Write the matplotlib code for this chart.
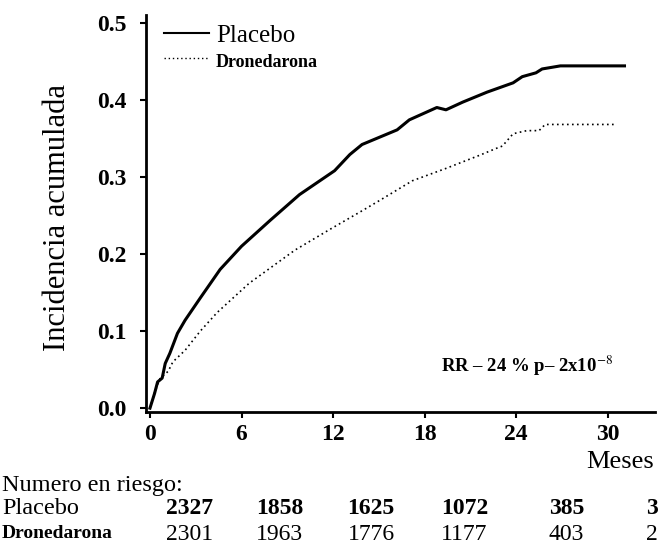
"""Incidencia acumulada: Placebo vs Dronedarona (curva tipo Kaplan-Meier)."""

import matplotlib

matplotlib.use("Agg")
import matplotlib.pyplot as plt
from matplotlib.lines import Line2D
from matplotlib.transforms import blended_transform_factory

plt.rcParams["font.family"] = ["Liberation Serif", "DejaVu Serif"]
plt.rcParams["mathtext.fontset"] = "stix"

# --- Datos ---
placebo_months = [0, 0.3, 0.5, 0.8, 1.0, 1.3, 1.8, 2.3, 3.3, 4.6, 6.0, 7.9, 9.8,
                  12.1, 13.1, 13.9, 16.2, 17.0, 18.8, 19.4, 20.5, 22.1, 23.8,
                  24.4, 25.3, 25.7, 26.9, 31.1]
placebo_inc = [0, 0.019, 0.034, 0.039, 0.058, 0.071, 0.097, 0.114, 0.143, 0.18,
               0.21, 0.244, 0.277, 0.308, 0.329, 0.342, 0.361, 0.374, 0.39,
               0.387, 0.397, 0.41, 0.422, 0.43, 0.435, 0.44, 0.444, 0.444]

drone_months = [0, 0.3, 0.65, 1.2, 1.5, 2.3, 3.3, 4.4, 6.5, 7.2, 9.5, 11.8, 13.9,
                15.1, 17.2, 19.4, 21.6, 22.7, 23.1, 23.8, 24.7, 25.5, 25.9, 30.5]
drone_inc = [0, 0.02, 0.038, 0.048, 0.06, 0.075, 0.1, 0.124, 0.162, 0.172, 0.205,
             0.232, 0.256, 0.27, 0.295, 0.311, 0.328, 0.337, 0.34, 0.356, 0.36,
             0.36, 0.368, 0.368]

risk_months = [0, 6, 12, 18, 24, 30]
risk_placebo = [2327, 1858, 1625, 1072, 385, 3]
risk_drone = [2301, 1963, 1776, 1177, 403, 2]

xticks = [0, 6, 12, 18, 24, 30]
yticks = [0.0, 0.1, 0.2, 0.3, 0.4, 0.5]


def main() -> None:
    fig = plt.figure(figsize=(6.58, 5.47), dpi=100)
    ax = fig.add_axes([146 / 658, 1 - 412 / 547, 509 / 658, 397 / 547])

    ax.plot(placebo_months, placebo_inc, color="black", lw=2.2, label="Placebo")
    ax.plot(drone_months, drone_inc, color="black", lw=1.2,
            linestyle=(0, (1, 2)), label="Dronedarona")

    ax.set_xlim(-0.26, 33.1)
    ax.set_ylim(-0.005, 0.51)
    ax.set_xticks(xticks)
    ax.set_yticks(yticks)
    ax.set_yticklabels([f"{v:.1f}" for v in yticks])
    for s in ("top", "right"):
        ax.spines[s].set_visible(False)
    for s in ("left", "bottom"):
        ax.spines[s].set_linewidth(2.0)
    ax.tick_params(axis="both", direction="out", length=4, width=1.5,
                   labelsize=17)
    ax.tick_params(axis="x", pad=5)
    ax.tick_params(axis="y", pad=10)
    for lab in ax.get_xticklabels() + ax.get_yticklabels():
        lab.set_fontweight("bold")

    ax.set_ylabel("Incidencia acumulada", fontsize=22)
    ax.yaxis.set_label_coords(-0.145, 0.49)

    handles = [Line2D([], [], color="black", lw=1.5),
               Line2D([], [], color="black", lw=1.0, linestyle=(0, (1, 2)))]
    leg = ax.legend(handles, ["Placebo", "Dronedarona"], loc="upper left",
                    bbox_to_anchor=(0.0, 1.02), frameon=False, fontsize=18,
                    handlelength=1.8, handletextpad=0.3, labelspacing=0.1,
                    borderaxespad=0.3)
    leg.get_texts()[1].set_fontsize(13)
    leg.get_texts()[1].set_fontweight("bold")

    ax.text(0.58, 0.115, r"RR – 24 % p– 2x10$^{-8}$", transform=ax.transAxes,
            fontsize=13.5, fontweight="bold", ha="left", va="center")

    fig.text(620 / 658, 1 - 462 / 547, "Meses", fontsize=19,
             ha="center", va="center")

    # --- Numero en riesgo ---
    fig.text(2 / 658, 1 - 485 / 547, "Numero en riesgo:", fontsize=17.5,
             ha="left", va="center")
    fig.text(2 / 658, 1 - 508 / 547, "Placebo", fontsize=17.5,
             ha="left", va="center")
    fig.text(2 / 658, 1 - 534 / 547, "Dronedarona", fontsize=14,
             fontweight="bold", ha="left", va="center")
    trans = blended_transform_factory(ax.transData, fig.transFigure)
    nudge = [2.6, 2.5, 2.5, 2.6, 3.3, 2.9]
    for m, p, d, n in zip(risk_months, risk_placebo, risk_drone, nudge):
        ax.text(m + n, 1 - 509 / 547, str(p), transform=trans, fontsize=17,
                fontweight="bold", ha="center", va="center", clip_on=False)
        ax.text(m + n, 1 - 534 / 547, str(d), transform=trans, fontsize=17,
                ha="center", va="center", clip_on=False)

    fig.savefig("out.png", dpi=100)
    plt.close(fig)


if __name__ == "__main__":
    main()
